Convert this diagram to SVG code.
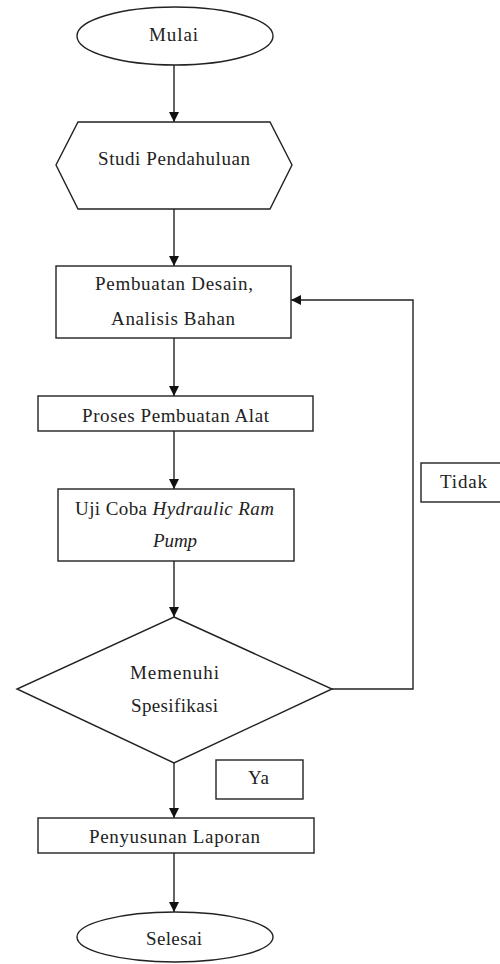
<svg xmlns="http://www.w3.org/2000/svg" width="500" height="964" viewBox="0 0 500 964">
<style>
.s{fill:#fff;stroke:#222;stroke-width:1.4}
.t{font-family:"Liberation Serif","Times New Roman",serif;font-size:19px;fill:#222}
.c{fill:none;stroke:#222;stroke-width:1.4}
</style>
<defs>
<marker id="ah" markerUnits="userSpaceOnUse" markerWidth="12" markerHeight="12" refX="10" refY="5" orient="auto">
<path d="M0,0 L10,5 L0,10 Z" fill="#111"/>
</marker>
</defs>
<rect width="500" height="964" fill="#fff"/>
<g id="connectors">
<line class="c" x1="174" y1="65" x2="174" y2="122" marker-end="url(#ah)"/>
<line class="c" x1="174" y1="209" x2="174" y2="266" marker-end="url(#ah)"/>
<line class="c" x1="174" y1="338" x2="174" y2="396" marker-end="url(#ah)"/>
<line class="c" x1="174" y1="431" x2="174" y2="489" marker-end="url(#ah)"/>
<line class="c" x1="174" y1="561" x2="174" y2="617" marker-end="url(#ah)"/>
<line class="c" x1="174" y1="763" x2="174" y2="818" marker-end="url(#ah)"/>
<line class="c" x1="174" y1="853" x2="174" y2="912" marker-end="url(#ah)"/>
<polyline class="c" points="332,689 413,689 413,300 291,300" marker-end="url(#ah)"/>
</g>
<g id="mulai">
<ellipse class="s" cx="175" cy="36" rx="98" ry="29"/>
<text class="t" x="149" y="41" textLength="49" lengthAdjust="spacing">Mulai</text>
</g>
<g id="studi">
<polygon class="s" points="78,122 270,122 292,165 270,209 78,209 56,165"/>
<text class="t" x="98" y="165" textLength="152" lengthAdjust="spacing">Studi Pendahuluan</text>
</g>
<g id="desain">
<rect class="s" x="56" y="266" width="235" height="72"/>
<text class="t" x="95" y="290" textLength="158" lengthAdjust="spacing">Pembuatan Desain,</text>
<text class="t" x="111" y="325" textLength="124" lengthAdjust="spacing">Analisis Bahan</text>
</g>
<g id="proses">
<rect class="s" x="38" y="396" width="275" height="35"/>
<text class="t" x="82" y="422" textLength="187" lengthAdjust="spacing">Proses Pembuatan Alat</text>
</g>
<g id="ujicoba">
<rect class="s" x="58" y="489" width="236" height="72"/>
<text class="t" x="75" y="515" textLength="199" lengthAdjust="spacing">Uji Coba <tspan font-style="italic">Hydraulic Ram</tspan></text>
<text class="t" x="153" y="547" font-style="italic" textLength="44" lengthAdjust="spacing">Pump</text>
</g>
<g id="keputusan">
<polygon class="s" points="174,617 332,689 174,763 17,689"/>
<text class="t" x="130" y="679" textLength="89" lengthAdjust="spacing">Memenuhi</text>
<text class="t" x="131" y="712" textLength="87" lengthAdjust="spacing">Spesifikasi</text>
</g>
<g id="tidak">
<rect class="s" x="421" y="463" width="82" height="39"/>
<text class="t" x="440" y="488" textLength="47" lengthAdjust="spacing">Tidak</text>
</g>
<g id="ya">
<rect class="s" x="216" y="760" width="87" height="39"/>
<text class="t" x="248" y="784" textLength="21" lengthAdjust="spacing">Ya</text>
</g>
<g id="laporan">
<rect class="s" x="38" y="818" width="276" height="35"/>
<text class="t" x="89" y="843" textLength="171" lengthAdjust="spacing">Penyusunan Laporan</text>
</g>
<g id="selesai">
<ellipse class="s" cx="175" cy="937" rx="98" ry="25"/>
<text class="t" x="146" y="945" textLength="56" lengthAdjust="spacing">Selesai</text>
</g>
</svg>
